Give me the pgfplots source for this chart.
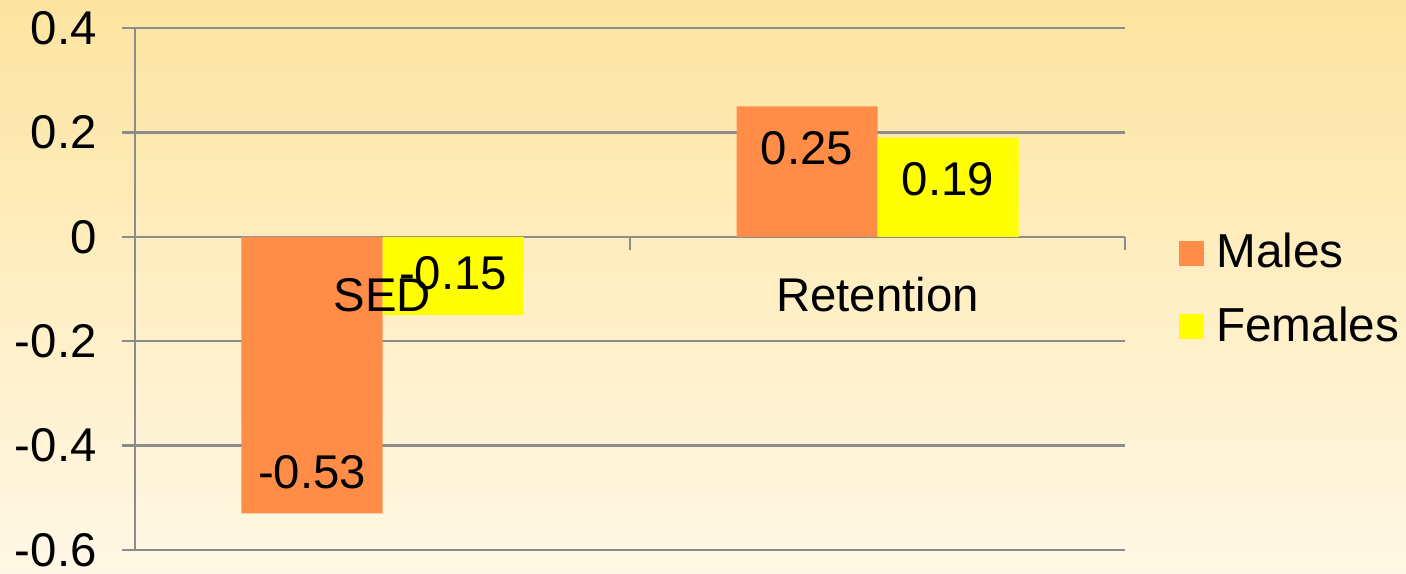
\documentclass[border=0pt]{standalone}
\usepackage{pgfplots}
\pgfplotsset{compat=1.18}
\usepackage{fontspec}
\setmainfont{Liberation Sans}
\definecolor{bgtop}{RGB}{253,228,160}
\definecolor{bgbot}{RGB}{255,248,230}
\definecolor{malec}{RGB}{255,140,71}
\definecolor{femc}{RGB}{255,255,0}
\definecolor{gridc}{RGB}{140,140,140}
\begin{document}
\begin{tikzpicture}
\shade[top color=bgtop,bottom color=bgbot] (0pt,0pt) rectangle (421.8pt,171.9pt);
\path[use as bounding box] (0pt,0pt) rectangle (421.8pt,171.9pt);
\begin{axis}[
  at={(40.5pt,6.9pt)}, anchor=south west,
  width=297pt, height=156.6pt, scale only axis,
  xmin=-0.5, xmax=1.5, ymin=-0.6, ymax=0.4,
  axis x line=middle, axis y line=left,
  axis line style={-, draw=gridc, line width=0.7pt},
  ytick={-0.6,-0.4,-0.2,0,0.2,0.4},
  yticklabels={-0.6,-0.4,-0.2,0,0.2,0.4},
  ymajorgrids, grid style={draw=gridc, line width=0.7pt},
  xtick={-0.5,0.5,1.5}, xticklabels={},
  major x tick style={draw=gridc, line width=0.7pt},
  major y tick style={draw=gridc, line width=0.7pt},
  tick align=outside,
  major tick length=4pt,
  ticklabel style={font=\fontsize{14.2}{16}\selectfont, text=black},
  yticklabel style={anchor=east, xshift=-4pt},
  ybar=0pt, bar width=42.3pt,
  point meta=explicit symbolic,
  nodes near coords,
  visualization depends on={rawy \as \rawy},
  every node near coord/.append style={font=\fontsize{14.2}{16}\selectfont, anchor=center, yshift={ifthenelse(\rawy>0,-1,1)*12.5pt}},
  legend style={at={(1.0434,0.498)}, anchor=west, draw=none, fill=none,
    font=\fontsize{14.3}{17}\selectfont, row sep=6.3pt,
    /tikz/every even column/.append style={column sep=0pt}},
  legend cell align=left,
  clip=false,
  after end axis/.code={
    \node[font=\fontsize{14.2}{16}\selectfont, anchor=center, yshift=-17.4pt] at (axis cs:0,0) {SED};
    \node[font=\fontsize{14.2}{16}\selectfont, anchor=center, yshift=-17.4pt] at (axis cs:1,0) {Retention};
  },
]
\addplot[fill=malec, draw=none, legend image code/.code={\fill[malec] (0pt,-3.75pt) rectangle (7.5pt,3.75pt); \path (0pt,0pt) -- (9.3pt,0pt);}]
  coordinates {(0,-0.53) [-0.53] (1,0.25) [0.25]};
\addplot[fill=femc, draw=none, legend image code/.code={\fill[femc] (0pt,-3.75pt) rectangle (7.5pt,3.75pt); \path (0pt,0pt) -- (9.3pt,0pt);}]
  coordinates {(0,-0.15) [-0.15] (1,0.19) [0.19]};
\legend{Males,Females}
\end{axis}
\end{tikzpicture}
\end{document}
